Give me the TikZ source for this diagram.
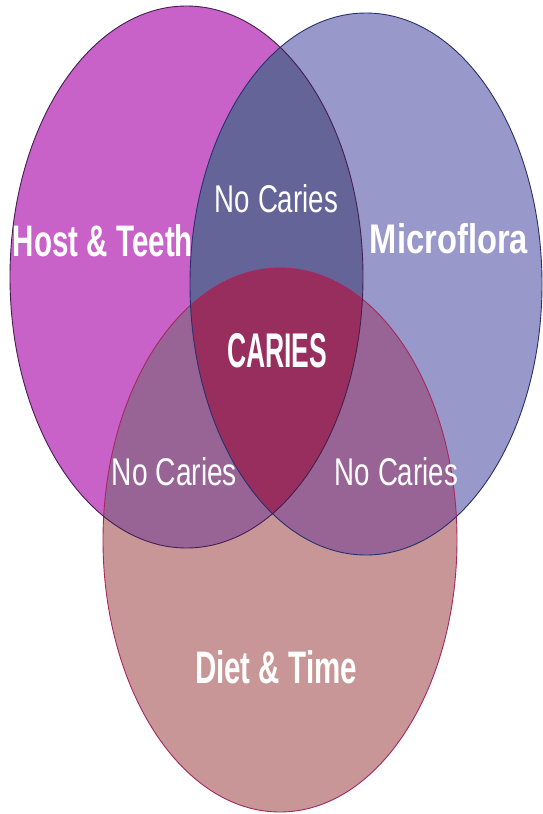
\documentclass[tikz,border=0pt]{standalone}
\usepackage{fontspec}
\setmainfont{Liberation Sans}
\usepackage{graphicx}
\definecolor{cL}{RGB}{200,98,200}
\definecolor{cR}{RGB}{152,152,202}
\definecolor{cB}{RGB}{200,150,150}
\definecolor{cLR}{RGB}{100,100,152}
\definecolor{cLB}{RGB}{152,100,150}
\definecolor{cRB}{RGB}{152,100,150}
\definecolor{cLRB}{RGB}{152,46,94}
\definecolor{oL}{RGB}{70,30,80}
\definecolor{oR}{RGB}{40,50,110}
\definecolor{oB}{RGB}{165,40,95}
\tikzset{
  lab/.style={text=white, inner sep=0pt, anchor=base},
  rim/.style={line width=0.9pt}
}
\newcommand{\ellL}{(186.5,277) ellipse [x radius=176.5, y radius=271]}
\newcommand{\ellR}{(366,284) ellipse [x radius=176, y radius=271]}
\newcommand{\ellB}{(280,540) ellipse [x radius=177, y radius=272]}
\begin{document}
\begin{tikzpicture}[x=1pt,y=-1pt]
\useasboundingbox[fill=white] (0,0) rectangle (543,814);
% single regions
\fill[cL] \ellL;
\fill[cR] \ellR;
\fill[cB] \ellB;
% pairwise
\begin{scope}\clip \ellL; \fill[cLR] \ellR; \end{scope}
\begin{scope}\clip \ellL; \fill[cLB] \ellB; \end{scope}
\begin{scope}\clip \ellR; \fill[cRB] \ellB; \end{scope}
% triple
\begin{scope}\clip \ellL; \clip \ellR; \fill[cLRB] \ellB; \end{scope}
% outlines
\draw[rim, oB] \ellB;
\draw[rim, oR] \ellR;
\draw[rim, oL] \ellL;
% labels
\node[lab] (nctop) at (276.5,212.7) {\resizebox{123pt}{28pt}{No Caries}};
\node[lab] (host) at (103,256.7) {\resizebox{180pt}{32pt}{\bfseries Host \& Teeth}};
\node[lab] (micro) at (449,253) {\resizebox{158pt}{30pt}{\bfseries Microflora}};
\node[lab] (caries) at (277,367) {\resizebox{100pt}{34pt}{\bfseries CARIES}};
\node[lab] (ncleft) at (174.5,485) {\resizebox{125pt}{28pt}{No Caries}};
\node[lab] (ncright) at (396.5,485) {\resizebox{123pt}{28pt}{No Caries}};
\node[lab] (diet) at (276,683) {\resizebox{162pt}{33pt}{\bfseries Diet \& Time}};
\end{tikzpicture}
\end{document}
